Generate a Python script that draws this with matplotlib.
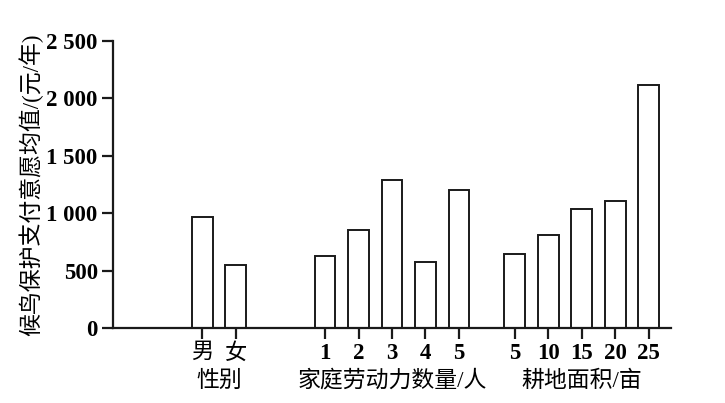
import matplotlib
matplotlib.use("Agg")
import matplotlib.pyplot as plt
from matplotlib.transforms import blended_transform_factory

plt.rcParams['font.family'] = ['Liberation Serif', 'Noto Sans CJK SC', 'DejaVu Sans']

# Data
gender_labels = ["男", "女"]
gender_values = [967, 546]
labor_labels = ["1", "2", "3", "4", "5"]
labor_values = [627, 854, 1287, 578, 1205]
land_labels = ["5", "10", "15", "20", "25"]
land_values = [642, 810, 1037, 1106, 2114]
group_titles = ["性别", "家庭劳动力数量/人", "耕地面积/亩"]
yticks = [0, 500, 1000, 1500, 2000, 2500]
ytick_labels = ["0", "500", "1 000", "1 500", "2 000", "2 500"]

groups = [(gender_labels, gender_values), (labor_labels, labor_values), (land_labels, land_values)]
gaps = [2.67, 2.67, 1.67]

fig = plt.figure(figsize=(7.25, 4.03), dpi=100)
ax = fig.add_axes([113/725, 1-328/403, (671-113)/725, (328-41)/403])

pos = 0.0
xs_all, labels_all, centers = [], [], []
for (labs, vals), gap in zip(groups, gaps):
    pos += gap
    xs = [pos + i for i in range(len(labs))]
    ax.bar(xs, vals, width=0.62, facecolor='white', edgecolor='#1a1a1a', linewidth=1.4)
    xs_all += xs
    labels_all += labs
    centers.append(sum(xs) / len(xs))
    pos = xs[-1]
right = pos + 0.67

ax.set_xlim(0, right)
ax.set_ylim(0, 2500)
ax.set_xticks(xs_all)
ax.set_xticklabels(labels_all, fontsize=16.5, fontweight='bold')
for t in ax.get_xticklabels():
    if not t.get_text().isdigit():
        t.set_fontweight('medium')
        t.set_fontsize(16)
ax.set_yticks(yticks)
ax.set_yticklabels(ytick_labels, fontsize=16.5, fontweight='bold')
for s in ['top', 'right']:
    ax.spines[s].set_visible(False)
for s in ['left', 'bottom']:
    ax.spines[s].set_linewidth(1.6)
    ax.spines[s].set_color('#1a1a1a')
ax.tick_params(axis='both', direction='out', length=8, width=1.6, color='#1a1a1a', pad=3)

ax.set_ylabel("候鸟保护支付意愿均值/(元/年)", fontsize=16.5, fontweight='medium', labelpad=2)

tr = blended_transform_factory(ax.transData, fig.transFigure)
for c, t in zip(centers, group_titles):
    ax.text(c, 1 - 381/403, t, transform=tr, ha='center', va='center', fontsize=16.5,
            fontweight='medium')

fig.savefig("out.png", dpi=100)
